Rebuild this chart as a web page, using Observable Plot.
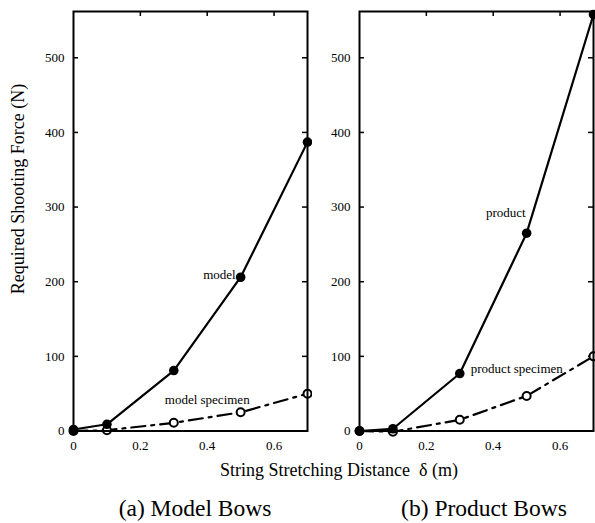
<!DOCTYPE html>
<html><head><meta charset="utf-8">
<script src="https://cdn.jsdelivr.net/npm/d3@7"></script>
<script src="https://cdn.jsdelivr.net/npm/@observablehq/plot@0.6"></script>
<style>
body{margin:0;background:#fff;}
#wrap{position:relative;width:595px;height:523px;font-family:"Liberation Serif","Times New Roman",serif;color:#000;overflow:hidden;}
.abs{position:absolute;white-space:nowrap;line-height:1;}
#wrap svg{background:transparent !important;font-family:"Liberation Serif","Times New Roman",serif !important;}
#wrap svg text{font-family:"Liberation Serif","Times New Roman",serif !important;font-variant-numeric:normal !important;}
</style></head><body><div id="wrap"></div>
<script>
const distance = [0, 0.1, 0.3, 0.5, 0.7];
const modelForce = [2, 9, 81, 206, 387];
const modelSpecimenForce = [0, 1, 11, 25, 50];
const productForce = [0, 3, 77, 265, 558];
const productSpecimenForce = [0, -1, 15, 47, 100];
const xTicks = [0, 0.2, 0.4, 0.6];
const yTicks = [0, 100, 200, 300, 400, 500];
const yLabel = "Required Shooting Force (N)";
const xLabel = "String Stretching Distance\u00a0\u00a0δ (m)";
const captions = ["(a) Model Bows", "(b) Product Bows"];
const seriesNames = [["model", "model specimen"], ["product", "product specimen"]];

const toRows = ys => distance.map((x, i) => ({x, y: ys[i]}));

function panel({main, spec, names, width, marginLeft, marginRight, mainLabel, specLabel}) {
  const height = 460, marginTop = 11, marginBottom = 29.5;
  const pw = width - marginLeft - marginRight;
  const ph = height - marginTop - marginBottom;
  const mainRows = toRows(main), specRows = toRows(spec);
  const txt = {fontSize: 13, fontFamily: "Liberation Serif", fill: "black"};
  return Plot.plot({
    width, height, marginLeft, marginRight, marginTop, marginBottom,
    style: {fontFamily: "Liberation Serif", fontSize: "13px", background: "transparent", color: "#000"},
    x: {domain: [0, 0.7], axis: null},
    y: {domain: [0, 562], axis: null},
    marks: [
      Plot.tickY(yTicks.slice(1), {y: d => d, insetRight: pw - 5, strokeWidth: 1.5}),
      Plot.tickY(yTicks.slice(1), {y: d => d, insetLeft: pw - 5, strokeWidth: 1.5}),
      Plot.tickX(xTicks.slice(1), {x: d => d, insetBottom: ph - 5, strokeWidth: 1.5}),
      Plot.text(yTicks, {y: d => d, text: d => String(d), frameAnchor: "left", textAnchor: "end", dx: -9, ...txt}),
      Plot.text(xTicks, {x: d => d, text: d => String(d), frameAnchor: "bottom", lineAnchor: "top", dy: 10, ...txt}),
      Plot.line(specRows, {x: "x", y: "y", stroke: "black", strokeWidth: 2.2, strokeDasharray: "14,6,3,6"}),
      Plot.line(mainRows, {x: "x", y: "y", stroke: "black", strokeWidth: 2.2}),
      Plot.dot(specRows, {x: "x", y: "y", r: 4, fill: "white", stroke: "black", strokeWidth: 2}),
      Plot.dot(mainRows, {x: "x", y: "y", r: 4.8, fill: "black"}),
      Plot.text([names[0]], {x: distance[mainLabel.i], y: main[mainLabel.i], text: d => d, textAnchor: mainLabel.anchor, dx: mainLabel.dx, dy: mainLabel.dy, ...txt}),
      Plot.text([names[1]], {x: distance[specLabel.i], y: (specLabel.src === "main" ? main : spec)[specLabel.i], text: d => d, textAnchor: specLabel.anchor, dx: specLabel.dx, dy: specLabel.dy, ...txt}),
      Plot.frame({stroke: "black", strokeWidth: 2})
    ]
  });
}

const wrap = document.getElementById("wrap");
function place(el, left, top) {
  const d = document.createElement("div");
  d.className = "abs";
  d.style.left = left + "px";
  d.style.top = top + "px";
  d.appendChild(el);
  wrap.appendChild(d);
  return d;
}

place(panel({main: modelForce, spec: modelSpecimenForce, names: seriesNames[0], width: 312, marginLeft: 73, marginRight: 5,
  mainLabel: {i: 3, anchor: "end", dx: -5, dy: -2},
  specLabel: {i: 3, anchor: "end", dx: 9, dy: -13, src: "spec"}}), 0, 0);
place(panel({main: productForce, spec: productSpecimenForce, names: seriesNames[1], width: 285, marginLeft: 49, marginRight: 2,
  mainLabel: {i: 3, anchor: "end", dx: -1, dy: -20},
  specLabel: {i: 2, anchor: "start", dx: 11, dy: -5, src: "main"}}), 310, 0);

function label(text, cx, cy, size, rotate) {
  const d = document.createElement("div");
  d.className = "abs";
  d.textContent = text;
  d.style.fontSize = size + "px";
  d.style.left = cx + "px";
  d.style.top = cy + "px";
  d.style.transform = "translate(-50%,-50%)" + (rotate ? " rotate(-90deg)" : "");
  wrap.appendChild(d);
}
label(yLabel, 18, 189, 18, true);
label(xLabel, 339, 470, 18, false);
label(captions[0], 195, 509, 23.5, false);
label(captions[1], 484, 509, 23.5, false);
</script>
</body></html>
